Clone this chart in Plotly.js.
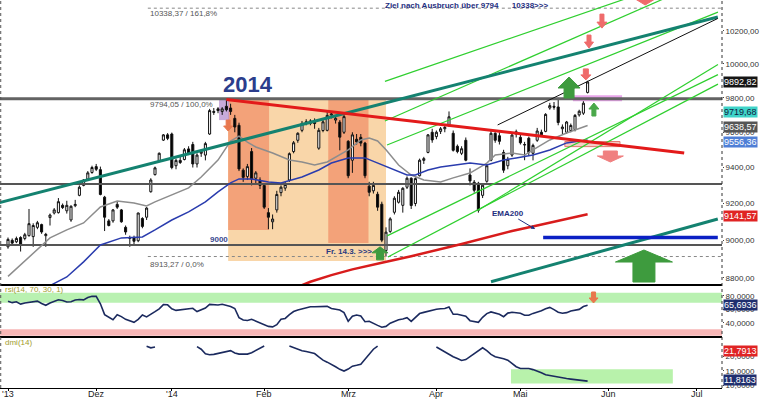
<!DOCTYPE html>
<html><head><meta charset="utf-8">
<script src="https://cdn.plot.ly/plotly-3.0.1.min.js"></script>
<style>html,body{margin:0;padding:0;background:#fff}#chart{width:760px;height:400px}</style>
</head><body><div id="chart"></div>
<script>
// ---------- DATA ----------
const dates = [
'2013-11-01','2013-11-04','2013-11-05','2013-11-06','2013-11-07','2013-11-08','2013-11-11','2013-11-12','2013-11-13','2013-11-14',
'2013-11-15','2013-11-18','2013-11-19','2013-11-20','2013-11-21','2013-11-22','2013-11-25','2013-11-26','2013-11-27','2013-11-28',
'2013-11-29','2013-12-02','2013-12-03','2013-12-04','2013-12-05','2013-12-06','2013-12-09','2013-12-10','2013-12-11','2013-12-12',
'2013-12-13','2013-12-16','2013-12-17','2013-12-18','2013-12-19','2013-12-20','2013-12-23','2013-12-27','2013-12-30','2014-01-02',
'2014-01-03','2014-01-06','2014-01-07','2014-01-08','2014-01-09','2014-01-10','2014-01-13','2014-01-14','2014-01-15','2014-01-16',
'2014-01-17','2014-01-20','2014-01-21','2014-01-22','2014-01-23','2014-01-24','2014-01-27','2014-01-28','2014-01-29','2014-01-30',
'2014-01-31','2014-02-03','2014-02-04','2014-02-05','2014-02-06','2014-02-07','2014-02-10','2014-02-11','2014-02-12','2014-02-13',
'2014-02-14','2014-02-17','2014-02-18','2014-02-19','2014-02-20','2014-02-21','2014-02-24','2014-02-25','2014-02-26','2014-02-27',
'2014-02-28','2014-03-03','2014-03-04','2014-03-05','2014-03-06','2014-03-07','2014-03-10','2014-03-11','2014-03-12','2014-03-13',
'2014-03-14','2014-03-17','2014-03-18','2014-03-19','2014-03-20','2014-03-21','2014-03-24','2014-03-25','2014-03-26','2014-03-27',
'2014-03-28','2014-03-31','2014-04-01','2014-04-02','2014-04-03','2014-04-04','2014-04-07','2014-04-08','2014-04-09','2014-04-10',
'2014-04-11','2014-04-14','2014-04-15','2014-04-16','2014-04-17','2014-04-22','2014-04-23','2014-04-24','2014-04-25','2014-04-28',
'2014-04-29','2014-04-30','2014-05-02','2014-05-05','2014-05-06','2014-05-07','2014-05-08','2014-05-09','2014-05-12','2014-05-13',
'2014-05-14','2014-05-15','2014-05-16','2014-05-19','2014-05-20','2014-05-21','2014-05-22','2014-05-23','2014-05-26'];

const open = [8965,9000,8992,9015,9010,9025,9020,9070,9085,9025, 9123,9148,9150,9190,9160,9110,9188,9245,9300,9335,
 9372,9405,9388,9235,9105,9105,9195,9165,9070,9010, 9015,8998,9118,9125,9265,9360,9435,9555,9585,9590,
 9410,9440,9445,9505,9530,9420,9480,9470,9590,9720, 9735,9720,9750,9740,9680,9640,9385,9350,9490,9340,
 9330,9300,9150,9100,9165,9260,9285,9330,9490,9554, 9611,9660,9650,9660,9509,9610,9611,9700,9670,9658,
 9600,9548,9441,9560,9571,9538,9296,9270,9251,9196, 8945,9048,9152,9207,9190,9290,9340,9200,9354,9440,
 9485,9600,9575,9605,9620,9643,9594,9520,9480,9554, 9358,9318,9312,9245,9323,9441,9594,9580,9485,9410,
 9470,9590,9571,9530,9566,9480,9554,9600,9605,9740, 9750,9746,9620,9600,9610,9615,9700,9710,9831];
const high = [9015,9010,9020,9022,9040,9170,9092,9105,9090,9040, 9145,9175,9230,9200,9215,9190,9220,9300,9335,9380,
 9410,9420,9405,9242,9115,9170,9210,9170,9080,9025, 9025,9150,9125,9180,9340,9405,9485,9590,9595,9598,
 9450,9460,9510,9520,9545,9480,9500,9545,9735,9740, 9745,9745,9794,9765,9700,9655,9395,9420,9510,9380,
 9345,9310,9175,9140,9270,9300,9320,9485,9550,9600, 9665,9675,9675,9680,9625,9675,9720,9720,9690,9670,
 9700,9555,9600,9590,9590,9545,9320,9320,9265,9210, 9070,9125,9240,9275,9290,9350,9345,9345,9450,9460,
 9590,9620,9610,9630,9640,9720,9610,9530,9520,9570, 9395,9330,9320,9310,9420,9610,9600,9600,9500,9460,
 9590,9615,9585,9545,9575,9535,9625,9615,9710,9770, 9775,9800,9645,9665,9650,9705,9730,9780,9900];
const low = [8955,8975,8985,8940,9000,9020,8965,9060,9035,8965, 9080,9140,9145,9170,9145,9100,9180,9240,9295,9330,
 9365,9380,9245,9050,9075,9095,9170,9095,9030,8965, 8970,8990,9065,9110,9260,9355,9430,9550,9555,9390,
 9390,9420,9440,9470,9400,9400,9460,9440,9585,9700, 9710,9700,9720,9700,9600,9380,9320,9330,9300,9310,
 9280,9170,9060,9060,9150,9240,9270,9320,9480,9540, 9600,9640,9640,9620,9500,9600,9605,9680,9650,9497,
 9590,9340,9370,9530,9520,9340,9240,9255,9160,8990, 8913,9040,9140,9200,9150,9280,9170,9185,9350,9420,
 9480,9540,9560,9590,9600,9630,9490,9480,9470,9435, 9300,9260,9150,9230,9315,9435,9540,9530,9370,9390,
 9460,9570,9530,9441,9470,9440,9545,9575,9600,9730, 9730,9640,9590,9590,9600,9605,9690,9700,9825];
const close = [9005,8985,9010,8980,9030,9090,9080,9095,9045,9032, 9137,9165,9210,9178,9190,9185,9195,9290,9330,9370,
 9400,9390,9250,9125,9080,9165,9180,9100,9045,9015, 8995,9148,9075,9175,9330,9398,9480,9585,9565,9400,
 9440,9428,9500,9480,9420,9470,9490,9535,9725,9715, 9725,9735,9730,9720,9630,9392,9345,9405,9335,9370,
 9300,9180,9125,9115,9250,9290,9305,9478,9540,9594, 9651,9656,9665,9650,9611,9660,9697,9705,9680,9572,
 9690,9354,9585,9545,9538,9354,9262,9300,9180,9001, 9044,9116,9229,9262,9284,9340,9189,9338,9441,9450,
 9585,9556,9600,9620,9628,9689,9497,9490,9506,9441, 9325,9273,9163,9301,9410,9594,9554,9548,9385,9446,
 9584,9603,9540,9528,9485,9525,9607,9585,9703,9754, 9745,9656,9630,9659,9639,9697,9721,9768,9892.82];

const rsi = [71.8,69.7,71,67.5,69.3,70.3,70.6,72,68.5,65.8, 69.1,71.2,74,72.8,70.7,71,73.5,74.4,73.8,77.2,
 79.2,79,68,52,47.6,44.3,51.7,49,45,42.2, 40.5,45,51.5,48.5,52,56.3,60.5,66.8,66.5,60.5,
 58.2,58.8,59.5,61,61.4,56.5,58.7,61.8,67.2,66.9, 66.3,67.4,66,64,61,47.5,44,43.2,45,42.5,
 39.8,37,34.5,33.8,37,45.2,46.3,52,56.5,58.9, 60.5,62.1,63.7,63.7,63.7,64.1,64.2,61,59.5,58.8,
 55,42,49.6,51.4,50,41.5,42.2,39.6,36,33.2, 34.5,39.3,41.9,44.3,45.6,47.4,42,47.5,53.5,55.3,
 56.7,59.2,59.9,60.6,61.1,63.2,52.4,52.4,51.5,49.6, 43,41.3,40.5,48,53.5,56,54.4,52.4,48.9,54.2,
 55.5,54.3,54,51.1,51.1,53.8,55.3,57.7,60.6,62.7, 59.4,55.5,54,54.9,57.4,59,59.7,64,65.69];

const dmi = [null,null,null,null,null,null,null,null,null,null, null,null,null,null,null,null,null,null,null,null,
 null,null,null,null,null,null,null,null,null,null, null,null,null,23.5,23.0,23.3,null,null,null,null,
 null,null,null,null,null,23.4,22.5,20.9,20.6,20.7, 21.0,21.3,21.6,22.0,21.2,20.8,20.8,20.8,21.3,22.0,
 22.9,23.6,null,null,null,null,null,23.6,23.0,22.5, 22.0,21.7,21.4,21.0,19.8,18.7,18.0,17.3,16.4,15.5,
 14.9,15.6,16.6,16.9,17.3,19.0,20.8,22.5,23.6,null, null,null,null,null,null,null,null,null,null,null,
 null,null,23.3,22.4,21.4,20.5,19.9,19.3,18.6,18.9, 20.0,21.0,22.0,23.0,22.0,20.7,19.9,19.6,19.2,18.7,
 17.6,16.4,15.8,15.8,15.8,15.4,14.9,14.3,13.6,13.3, 13.0,12.7,12.4,12.3,12.1,11.9,11.7,11.5,11.4];

const sma20Dates = ['2013-11-01','2013-11-11','2013-11-15','2013-11-21','2013-11-27','2013-12-03','2013-12-09','2013-12-13','2013-12-18','2013-12-20',
 '2014-01-02','2014-01-08','2014-01-13','2014-01-17','2014-01-22','2014-01-24','2014-01-28','2014-01-30','2014-02-05','2014-02-11',
 '2014-02-14','2014-02-19','2014-02-24','2014-03-03','2014-03-06','2014-03-10','2014-03-12','2014-03-14','2014-03-19','2014-03-24',
 '2014-03-27','2014-04-02','2014-04-07','2014-04-11','2014-04-17','2014-04-23','2014-04-29','2014-05-05','2014-05-07','2014-05-13',
 '2014-05-19','2014-05-26'];
const sma20Vals = [8808,8932,9013,9056,9094,9181,9214,9203,9187,9209, 9247,9286,9347,9442,9550,9578,9544,9516,9482,9442,
 9431,9414,9431,9499,9556,9567,9550,9500,9414,9358, 9330,9319,9342,9369,9425,9470,9482,9470,9499,9556, 9596,9638.57];

const sma50Dates = ['2013-11-15','2013-11-21','2013-11-27','2013-12-03','2013-12-10','2013-12-17','2013-12-20','2014-01-02','2014-01-08','2014-01-14',
 '2014-01-17','2014-01-22','2014-01-24','2014-01-29','2014-02-04','2014-02-07','2014-02-14','2014-02-20','2014-02-25','2014-03-03',
 '2014-03-07','2014-03-12','2014-03-17','2014-03-21','2014-03-25','2014-03-28','2014-04-02','2014-04-11','2014-04-17','2014-04-25',
 '2014-04-30','2014-05-07','2014-05-13','2014-05-19','2014-05-26'];
const sma50Vals = [8760,8805,8885,8975,9013,9018,9056,9110,9154,9209, 9264,9314,9336,9336,9319,9314,9347,9386,9425,9454,
 9454,9425,9397,9358,9358,9386,9403,9425,9414,9442, 9454,9470,9499,9539,9556.36];

const ema200Dates = ['2014-02-14','2014-02-18','2014-02-25','2014-03-04','2014-03-13','2014-03-24','2014-04-09','2014-04-29','2014-05-08','2014-05-26'];
const ema200Vals = [8762,8780,8815,8845,8880,8915,8980,9050,9080,9141.57];

const monthTicks = ['2013-11-01','2013-12-02','2014-01-02','2014-02-03','2014-03-03','2014-04-01','2014-05-02','2014-06-02','2014-07-01'];
const monthLabels = ["'13",'Dez',"'14",'Feb','Mrz','Apr','Mai','Jun','Jul'];
const holidays = ['2013-12-24','2013-12-25','2013-12-26','2013-12-31','2014-01-01','2014-04-18','2014-04-21','2014-05-01'];

// horizontal levels and fibonacci levels
const levels = [9794.05, 9308, 8975];
const fibLevels = [10338.37, 8913.27];
// drawn trend lines (start date, start value, end date, end value)
const fanStartD = ['2014-03-13 18:00','2014-03-13 18:00','2014-03-14 06:00','2014-03-14 11:00','2014-03-14 06:00','2014-04-14 22:00'];
const fanStartV = [9896, 9665, 9527, 8911, 9024, 9163];
const fanEndD = ['2014-06-18 05:00','2014-06-26 22:00','2014-07-08 01:00','2014-07-08 01:00','2014-07-08 01:00','2014-07-08 01:00'];
const fanEndV = [10470, 10463, 10314, 9880, 9936, 9997];
const tealD = [['2013-10-30','2014-07-08'],['2014-04-22','2014-07-08']];
const tealV = [[9205,10284],[8780,9115]];
const resistD = ['2014-01-21','2014-06-26'], resistV = [9790, 9482];
const blackD = ['2014-04-23 14:00','2014-07-08'], blackV = [9642, 10275];
const supportD = ['2014-05-09 10:00','2014-07-08'], supportV = [9015, 9015];

// ---------- CHART ----------
const xStart = '2013-10-30 02:17', xEnd = '2014-07-09';
const traces = [];
const L = (x, y, color, width, dash, yaxis) => ({type:'scatter', mode:'lines', x, y, xaxis:'x', yaxis: yaxis||'y',
  line:{color, width, dash: dash||'solid'}, hoverinfo:'skip', showlegend:false, connectgaps:false});

traces.push({type:'candlestick', x:dates, open, high, low, close, xaxis:'x', yaxis:'y',
  increasing:{line:{color:'#111', width:1}, fillcolor:'#ffffff'},
  decreasing:{line:{color:'#111', width:1}, fillcolor:'#000000'},
  whiskerwidth:0, hoverinfo:'skip', showlegend:false});

traces.push(L([xStart,xEnd],[levels[0],levels[0]],'#636363',3));
traces.push(L([xStart,xEnd],[levels[1],levels[1]],'#555',2));
traces.push(L([xStart,xEnd],[levels[2],levels[2]],'#555',2));
fibLevels.forEach(v => traces.push(L(['2013-12-18 07:00',xEnd],[v,v],'#888',1,'dot')));
traces.push(L(sma20Dates, sma20Vals, '#8d8d8d', 1.5));
traces.push(L(sma50Dates, sma50Vals, '#2a3cae', 1.5));
traces.push(L(ema200Dates, ema200Vals, '#d81c1c', 2.5));
for (let i=0;i<fanStartD.length;i++) traces.push(L([fanStartD[i],fanEndD[i]],[fanStartV[i],fanEndV[i]],'#2fcf2f',1.2));
tealD.forEach((d,i)=>traces.push(L(d, tealV[i], '#148270', 3)));
traces.push(L(resistD, resistV, '#e31a1a', 3));
traces.push(L(blackD, blackV, '#111', 1));
traces.push(L(supportD, supportV, '#0b20c4', 3.5));
traces.push(L(dates, rsi, '#1b2a5e', 1.6, 'solid', 'y2'));
traces.push(L(dates, dmi, '#1b2a5e', 1.6, 'solid', 'y3'));

// panel geometry (plot area height 388px; panels end at 285px and 337px from top)
const PH = 388, mainLo = (PH-285)/PH, rsiLo = (PH-337)/PH;

const lg = Math.log10;
const shapes = [];
const rect = (x0,x1,y0,y1,color,yref,extra) => Object.assign({type:'rect', xref:'x', yref:yref||'y', x0,x1,y0,y1,
  fillcolor:color, line:{width:0}, layer:'below'}, extra||{});
shapes.push(rect('2014-01-21 10:00','2014-03-14 00:00',8890,9794.05,'#f9d6a9'));
shapes.push(rect('2014-01-21 10:00','2014-02-04 04:00',9056,9794.05,'#f3a279'));
shapes.push(rect('2014-02-24 06:00','2014-03-07 20:00',8985,9794.05,'#f3a279'));
shapes.push(rect('2014-01-17 06:00','2014-01-21 16:00',9670,9794.05,'rgba(185,150,210,0.8)'));
shapes.push(rect('2014-05-20 12:00','2014-06-05 05:00',9779,9815,'#e8a6ea'));
shapes.push(rect('2014-05-16 14:00','2014-06-04 17:00',9518,9547,'rgba(242,170,160,0.6)','y',{line:{color:'#e07a70',width:1}}));
shapes.push({type:'rect', xref:'paper', yref:'y2', x0:0, x1:1, y0:69.6, y1:84.5, fillcolor:'#b9f1b1', line:{width:0}, layer:'below'});
shapes.push({type:'rect', xref:'paper', yref:'y2', x0:0, x1:1, y0:20.7, y1:30.2, fillcolor:'#f7b6b6', line:{width:0}, layer:'below'});
shapes.push(rect('2014-04-28 18:00','2014-06-23 07:00',10.6,15.5,'#b8f2ab','y3'));

// separators and axes lines
[mainLo, rsiLo].forEach(y => shapes.push({type:'line', xref:'paper', yref:'paper', x0:0, x1:1, y0:y, y1:y, line:{color:'#000', width:2}}));
shapes.push({type:'line', xref:'paper', yref:'paper', x0:1, x1:1, y0:0, y1:1, line:{color:'#333', width:1, dash:'dot'}});
shapes.push({type:'line', xref:'paper', yref:'paper', x0:0.001, x1:0.001, y0:0, y1:1, line:{color:'#555', width:1, dash:'dot'}});

// block arrows
function arrowPath(dir,w,h,s,t){const g=dir==='down'?1:-1;
  return `M0,0 L${-w/2},${g*h} L${-s/2},${g*h} L${-s/2},${g*(h+t)} L${s/2},${g*(h+t)} L${s/2},${g*h} L${w/2},${g*h} Z`;}
const arrows = [
 {x:'2014-06-12 10:00', y:8948, dir:'up', w:57, h:12, s:22, t:20, c:'#3e9b3e'},
 {x:'2014-05-19 14:00', y:9922, dir:'up', w:22, h:11, s:10, t:10, c:'#3e9b3e'},
 {x:'2014-05-27 12:00', y:9769, dir:'up', w:10, h:6, s:4, t:7, c:'#4aa84a'},
 {x:'2014-03-12 14:00', y:8965, dir:'up', w:16, h:6, s:7, t:7, c:'#3e9b3e'},
 {x:'2014-01-21 10:00', y:9607, dir:'down', w:9, h:5, s:4, t:6, c:'#e8784e'},
 {x:'2014-05-23 14:00', y:9905, dir:'down', w:10, h:5, s:5, t:6, c:'#ef6b6b'},
 {x:'2014-05-26 08:00', y:10095, dir:'down', w:9, h:6, s:4, t:7, c:'#ef6b6b'},
 {x:'2014-05-29 10:00', y:10216, dir:'down', w:10, h:6, s:4, t:8, c:'#ef6b6b'},
 {x:'2014-06-12 17:00', y:10358, dir:'down', w:23, h:7, s:10, t:10, c:'#ef6b6b'},
 {x:'2014-06-02 10:00', y:9431, dir:'down', w:26, h:6, s:14, t:5, c:'#f08080'},
 {x:'2014-05-27 10:00', y:69.2, dir:'down', w:9, h:5, s:4, t:6, c:'#e8784e', yref:'y2'}
];
arrows.forEach(a => shapes.push({type:'path', xref:'x', yref:a.yref||'y', xsizemode:'pixel', ysizemode:'pixel',
  xanchor:a.x, yanchor:a.y, path:arrowPath(a.dir,a.w,a.h,a.s,a.t), fillcolor:a.c, line:{color:a.c, width:1}, layer:'above'}));

const ann = [];
const txt = (x,y,text,opt) => Object.assign({xref:'x', yref:'y', x, y:lg(y), text, showarrow:false,
  font:{size:8, color:'#555', family:'Liberation Sans, Arial'}}, opt||{});
ann.push(txt('2014-01-28 02:00', 9880, '2014', {font:{size:22, color:'#2b3d8c', family:'Liberation Sans, Arial', weight:'bold'}}));
ann.push(txt('2014-03-13 07:00', 10352, '<b>Ziel nach Ausbruch über 9794\u00a0\u00a0\u00a0\u00a0\u00a0\u00a010338>>></b>', {xanchor:'left', font:{size:8, color:'#1f2f80', family:'Liberation Sans, Arial'}}));
ann.push(txt('2013-12-18 07:00', 10308, '10338,37 / 161,8%', {xanchor:'left'}));
ann.push(txt('2013-12-18 07:00', 9763, '9794,05 / 100,0%', {xanchor:'left'}));
ann.push(txt('2013-12-18 07:00', 8870, '8913,27 / 0,0%', {xanchor:'left'}));
ann.push(txt('2014-01-17 05:00', 8980, '<b>9000</b>', {yanchor:'bottom', yshift:-2, font:{size:8, color:'#3a4a90', family:'Liberation Sans, Arial'}}));
ann.push(txt('2014-03-03 02:00', 8942, '<b>Fr. 14.3. >>></b>', {font:{size:8, color:'#2a3a80', family:'Liberation Sans, Arial'}}));
ann.push({xref:'x', yref:'y', x:'2014-05-07 12:00', y:lg(9061), text:'<b>EMA200</b>', showarrow:true, ax:-27, ay:-16,
  arrowhead:2, arrowsize:0.8, arrowwidth:1, arrowcolor:'#1f2f80', font:{size:8, color:'#1f2f80', family:'Liberation Sans, Arial'}});
ann.push({xref:'paper', yref:'paper', x:0.004, y:(PH-289)/PH, xanchor:'left', yanchor:'middle', text:'rsi(14, 70, 30, 1)', showarrow:false, font:{size:8, color:'#a39c2c'}});
ann.push({xref:'paper', yref:'paper', x:0.004, y:(PH-342)/PH, xanchor:'left', yanchor:'middle', text:'dmi(14)', showarrow:false, font:{size:8, color:'#a39c2c'}});

// month labels under the axis
monthTicks.forEach((d,i) => ann.push({xref:'x', yref:'paper', x:d, y:0, yanchor:'bottom', yshift:-11.5, borderpad:0,
  text:monthLabels[i], showarrow:false, font:{size:9, color:'#222', family:'Liberation Sans, Arial'}}));

const valLabels = [
 {y:lg(9892.82), t:'9892,82', bg:'#151515', c:'#fff', yref:'y', sh:0},
 {y:lg(9719.68), t:'9719,68', bg:'#3fd3c8', c:'#102040', yref:'y', sh:0},
 {y:lg(9638.57), t:'9638,57', bg:'#555555', c:'#fff', yref:'y', sh:-1},
 {y:lg(9556.36), t:'9556,36', bg:'#4f7fd6', c:'#fff', yref:'y', sh:-2},
 {y:lg(9141.57), t:'9141,57', bg:'#e02424', c:'#fff', yref:'y', sh:-2},
 {y:65.69, t:'65,6936', bg:'#1f2f6f', c:'#fff', yref:'y2', sh:0},
 {y:21.79, t:'21,7913', bg:'#e02424', c:'#fff', yref:'y3', sh:0},
 {y:11.82, t:'11,8163', bg:'#1f2f6f', c:'#fff', yref:'y3', sh:0}
];
valLabels.forEach(v => ann.push({xref:'paper', yref:v.yref, x:1, y:v.y, xanchor:'left', yanchor:'middle', xshift:1, yshift:v.sh,
  text:v.t, showarrow:false, bgcolor:v.bg, borderpad:0, font:{size:9, color:v.c, family:'Liberation Sans, Arial'}}));

const yax = (domain, range, tickvals, fmt, type) => ({domain, range, type: type||'linear', side:'right', anchor:'x',
  tickvals, tickformat:fmt, ticks:'outside', ticklen:1, tickcolor:'#444', showgrid:false, zeroline:false, showline:false,
  tickfont:{size:8, color:'#333', family:'Liberation Sans, Arial'}, fixedrange:true});

const layout = {
  width:760, height:400, margin:{l:0, r:38, t:0, b:12, pad:0},
  paper_bgcolor:'#ffffff', plot_bgcolor:'#ffffff', separators:',.', showlegend:false,
  font:{family:'Liberation Sans, Arial, sans-serif', size:10, color:'#222'},
  xaxis:{type:'date', range:[xStart, xEnd], anchor:'y3',
    rangebreaks:[{bounds:['sat','mon']}, {values:holidays}], rangeslider:{visible:false},
    tickvals:monthTicks, showticklabels:false, ticks:'outside', ticklen:2, tickcolor:'#000',
    showline:true, linecolor:'#000', linewidth:1, showgrid:false, zeroline:false, fixedrange:true},
  yaxis: yax([mainLo,1], [lg(8763), lg(10389)], [8800,9000,9200,9400,9600,9800,10000,10200], '.2f', 'log'),
  yaxis2: yax([rsiLo,mainLo], [18.8,95.85], [40,60,80], '.4f'),
  yaxis3: yax([0,rsiLo], [9.0,26.76], [10,15,20], '.4f'),
  shapes, annotations: ann
};
Plotly.newPlot('chart', traces, layout, {staticPlot:true, displayModeBar:false});
</script>
</body></html>
